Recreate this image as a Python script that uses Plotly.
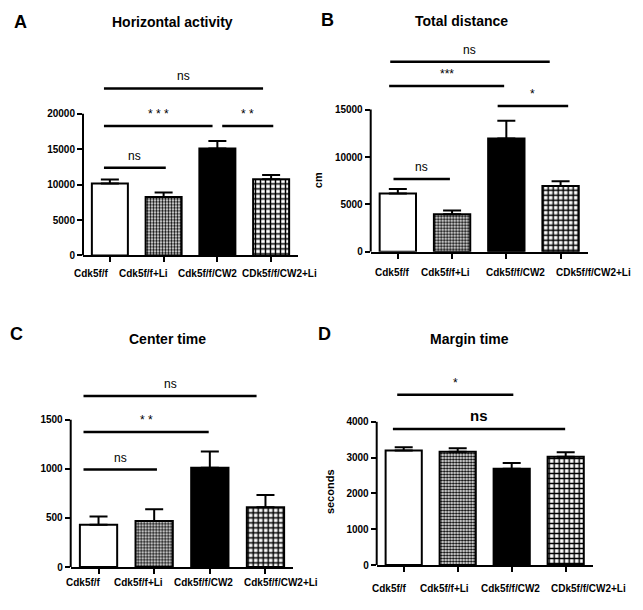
import plotly.graph_objects as go

# ---------------- data ----------------
groups_ABD = ["Cdk5f/f", "Cdk5f/f+Li", "Cdk5f/f/CW2", "CDk5f/f/CW2+Li"]
groups_C = ["Cdk5f/f", "Cdk5f/f+Li", "Cdk5f/f/CW2", "Cdk5f/f/CW2+Li"]

A_mean = [10150, 8250, 15100, 10750]
A_sem = [570, 650, 1050, 600]
B_mean = [6150, 3950, 11950, 6950]
B_sem = [480, 420, 1880, 500]
C_mean = [430, 470, 1013, 609]
C_sem = [85, 119, 164, 124]
D_mean = [3198, 3162, 2692, 3024]
D_sem = [92, 101, 156, 128]

A_ticks = [0, 5000, 10000, 15000, 20000]
B_ticks = [0, 5000, 10000, 15000]
C_ticks = [0, 500, 1000, 1500]
D_ticks = [0, 1000, 2000, 3000, 4000]

# significance brackets: (start, end, height, label)
A_sig_start = [-0.11, -0.11, 2.09, -0.11]
A_sig_end = [2.85, 1.91, 3.04, 1.04]
A_sig_y = [23590, 18280, 18280, 12400]
A_sig_lab = ["ns", "* * *", "* *", "ns"]

B_sig_start = [-0.14, -0.16, 1.84, -0.08]
B_sig_end = [2.80, 1.96, 3.14, 0.96]
B_sig_y = [20060, 17500, 15390, 7690]
B_sig_lab = ["ns", "***", "*", "ns"]

C_sig_start = [-0.27, -0.27, -0.27]
C_sig_end = [2.84, 1.98, 1.05]
C_sig_y = [1742, 1376, 993]
C_sig_lab = ["ns", "* *", "ns"]

D_sig_start = [-0.12, -0.20]
D_sig_end = [2.03, 2.99]
D_sig_y = [4755, 3798]
D_sig_lab = ["*", "<b>ns</b>"]

titles = ["Horizontal activity", "Total distance", "Center time", "Margin time"]
letters = ["A", "B", "C", "D"]
ylabels = ["", "cm", "", "seconds"]

# ---------------- styles / layout ----------------
bar_fill = ["white", "white", "black", "white"]
bar_pattern = ["", ".", "", "+"]
bar_pattern_size = [4, 3, 4, 5]
bar_pattern_solidity = [0.3, 0.5, 0.3, 0.5]

W, H = 643, 610
FONT = "Liberation Sans, Arial, sans-serif"

panels = [
    dict(mean=A_mean, sem=A_sem, ticks=A_ticks, cats=groups_ABD, ymax=26000,
         s0=A_sig_start, s1=A_sig_end, sy=A_sig_y, sl=A_sig_lab,
         px=(83, 298), py=(258, 115), pyval=20000,
         labx=[-0.35, 0.63, 1.82, 3.15], laby=18),
    dict(mean=B_mean, sem=B_sem, ticks=B_ticks, cats=groups_ABD, ymax=21000,
         s0=B_sig_start, s1=B_sig_end, sy=B_sig_y, sl=B_sig_lab,
         px=(370.7, 587.7), py=(254.3, 110.7), pyval=15000,
         labx=[-0.09, 0.88, 2.17, 3.6], laby=21),
    dict(mean=C_mean, sem=C_sem, ticks=C_ticks, cats=groups_C, ymax=1800,
         s0=C_sig_start, s1=C_sig_end, sy=C_sig_y, sl=C_sig_lab,
         px=(70.7, 293.3), py=(572.7, 424), pyval=1500,
         labx=[-0.27, 0.72, 1.88, 3.28], laby=15),
    dict(mean=D_mean, sem=D_sem, ticks=D_ticks, cats=groups_ABD, ymax=5000,
         s0=D_sig_start, s1=D_sig_end, sy=D_sig_y, sl=D_sig_lab,
         px=(376.7, 592.7), py=(570.7, 426), pyval=4000,
         labx=[-0.27, 0.75, 1.97, 3.42], laby=23),
]
title_pos = [(172, 22), (461, 21), (167, 342), (469, 342)]
letter_pos = [(20, 22), (327, 20), (16, 337), (324, 337)]
ylabel_pos = [None, (318, 182), None, (330, 497)]

fig = go.Figure()
annotations = []
shapes = []
layout = {}

for i, p in enumerate(panels):
    sfx = "" if i == 0 else str(i + 1)
    xa, ya = "x" + sfx, "y" + sfx
    # bars, one trace per group so each can carry its own fill pattern
    for j in range(4):
        fig.add_trace(go.Bar(
            x=[j], y=[p["mean"][j]], xaxis=xa, yaxis=ya, width=0.67,
            marker=dict(color=bar_fill[j], line=dict(color="black", width=2),
                        pattern=dict(shape=bar_pattern[j], size=bar_pattern_size[j],
                                     solidity=bar_pattern_solidity[j],
                                     fgcolor="black", bgcolor="white",
                                     fillmode="replace")),
            error_y=dict(type="data", symmetric=False, array=[p["sem"][j]],
                         arrayminus=[0], color="black", thickness=2, width=9),
            showlegend=False, hoverinfo="skip"))
    # significance lines
    lx, ly = [], []
    for a, b, h in zip(p["s0"], p["s1"], p["sy"]):
        lx += [a, b, None]
        ly += [h, h, None]
    fig.add_trace(go.Scatter(x=lx, y=ly, mode="lines", xaxis=xa, yaxis=ya,
                             line=dict(color="black", width=2.5),
                             showlegend=False, hoverinfo="skip"))
    for a, b, h, lab in zip(p["s0"], p["s1"], p["sy"], p["sl"]):
        big = lab.startswith("<b>")
        annotations.append(dict(x=(a + b) / 2, y=h, xref=xa, yref=ya, text=lab,
                                showarrow=False, yanchor="bottom", yshift=3,
                                font=dict(family=FONT, size=15 if big else 12,
                                          color="black")))
    # category labels (placed in a row as in the original figure);
    # positions given in category units, converted to axis-domain fractions
    for cx, cat in zip(p["labx"], p["cats"]):
        annotations.append(dict(x=(cx + 0.5) / 4.0, y=0, xref=xa + " domain",
                                yref=ya + " domain", text=cat,
                                showarrow=False, xanchor="center", yanchor="middle",
                                yshift=-p["laby"],
                                font=dict(family=FONT, size=10, color="black",
                                          weight="bold")))
    # domains
    x0, x1 = p["px"]
    ybot, yref_px = p["py"]
    scale = (ybot - yref_px) / p["pyval"]
    ytop = ybot - p["ymax"] * scale
    layout["xaxis" + sfx] = dict(
        domain=[x0 / W, x1 / W], range=[-0.5, 3.5], anchor=ya,
        tickmode="array", tickvals=list(range(4)), showticklabels=False,
        showline=True, linewidth=2, linecolor="black", ticks="outside",
        ticklen=5, tickwidth=2, tickcolor="black", showgrid=False, zeroline=False)
    layout["yaxis" + sfx] = dict(
        domain=[1 - ybot / H, 1 - ytop / H], range=[0, p["ymax"]], anchor=xa,
        tickmode="array", tickvals=p["ticks"], tickformat="d",
        showline=False, ticks="outside",
        ticklen=5, tickwidth=2, tickcolor="black", showgrid=False, zeroline=False,
        tickfont=dict(family=FONT, size=10, color="black", weight="bold"))
    # y axis line (only up to the highest tick)
    shapes.append(dict(type="line", xref=xa + " domain", yref=ya, x0=0, x1=0,
                       y0=0, y1=max(p["ticks"]), line=dict(color="black", width=2)))
    # titles and letters
    tx, ty = title_pos[i]
    annotations.append(dict(x=tx / W, y=1 - ty / H, xref="paper", yref="paper",
                            text="<b>" + titles[i] + "</b>", showarrow=False,
                            xanchor="center", yanchor="middle",
                            font=dict(family=FONT, size=14, color="black")))
    lx_, ly_ = letter_pos[i]
    annotations.append(dict(x=lx_ / W, y=1 - ly_ / H, xref="paper", yref="paper",
                            text="<b>" + letters[i] + "</b>", showarrow=False,
                            xanchor="center", yanchor="middle",
                            font=dict(family=FONT, size=18, color="black")))
    if ylabels[i]:
        yx, yy = ylabel_pos[i]
        annotations.append(dict(x=yx / W, y=1 - yy / H, xref="paper", yref="paper",
                                text="<b>" + ylabels[i] + "</b>", showarrow=False,
                                textangle=-90, xanchor="center", yanchor="middle",
                                font=dict(family=FONT, size=11, color="black")))

fig.update_layout(width=W, height=H, margin=dict(l=0, r=0, t=0, b=0),
                  barmode="overlay",
                  paper_bgcolor="white", plot_bgcolor="white",
                  annotations=annotations, shapes=shapes, **layout)
fig.write_html("out.html", config={"displayModeBar": False},
               post_script="document.body.style.margin='0';"
                           "document.body.style.overflow='hidden';")
